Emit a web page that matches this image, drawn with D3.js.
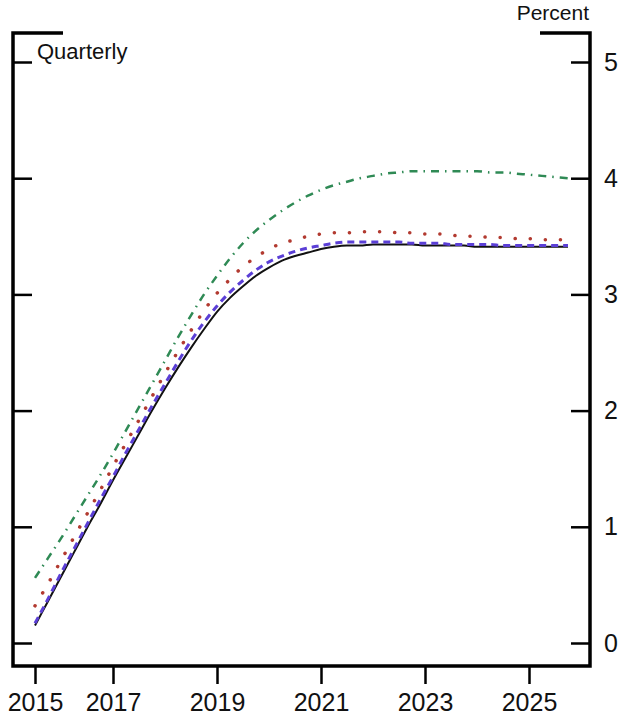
<!DOCTYPE html>
<html>
<head>
<meta charset="utf-8">
<script src="https://cdn.jsdelivr.net/npm/d3@7"></script>
<style>
  body { margin: 0; background: #fff; }
  text { font-family: "Liberation Sans", Arial, sans-serif; fill: #111; }
</style>
</head>
<body>
<script>
// quarterly dates, 2015Q3 through 2025Q4
const dates = d3.range(2015.5, 2025.76, 0.25)

// series (percent)
const solidBlack = [0.15, 0.36, 0.57, 0.78, 0.99, 1.19, 1.40, 1.60, 1.80, 2.00,
    2.19, 2.37, 2.54, 2.70, 2.85, 2.97, 3.07, 3.16, 3.23, 3.29,
    3.33, 3.36, 3.39, 3.41, 3.42, 3.42, 3.43, 3.43, 3.43, 3.43,
    3.42, 3.42, 3.42, 3.42, 3.41, 3.41, 3.41, 3.41, 3.41, 3.41, 3.41, 3.41]
const dashedBlue = [0.17, 0.38, 0.60, 0.81, 1.02, 1.23, 1.43, 1.64, 1.84, 2.04,
    2.23, 2.42, 2.60, 2.76, 2.90, 3.02, 3.12, 3.21, 3.28, 3.33,
    3.37, 3.40, 3.42, 3.44, 3.45, 3.45, 3.45, 3.45, 3.45, 3.44,
    3.44, 3.44, 3.43, 3.43, 3.43, 3.43, 3.42, 3.42, 3.42, 3.42, 3.42, 3.42]
const dottedRed = [0.32, 0.51, 0.71, 0.91, 1.11, 1.31, 1.52, 1.72, 1.92, 2.12,
    2.32, 2.51, 2.69, 2.86, 3.01, 3.13, 3.24, 3.32, 3.39, 3.44,
    3.47, 3.50, 3.52, 3.53, 3.53, 3.54, 3.54, 3.54, 3.53, 3.53,
    3.52, 3.52, 3.51, 3.50, 3.50, 3.49, 3.49, 3.48, 3.48, 3.47, 3.47, 3.47]
const dashDotGreen = [0.56, 0.73, 0.90, 1.08, 1.26, 1.44, 1.63, 1.83, 2.03, 2.23,
    2.43, 2.63, 2.82, 3.00, 3.16, 3.31, 3.44, 3.55, 3.64, 3.72,
    3.79, 3.85, 3.90, 3.94, 3.97, 4.00, 4.02, 4.04, 4.05, 4.06,
    4.06, 4.06, 4.06, 4.06, 4.06, 4.05, 4.05, 4.04, 4.03, 4.02, 4.01, 4.00]

// x tick positions and their labels (first tick sits at the first quarter)
const xTickValues = [2015.5, 2017, 2019, 2021, 2023, 2025]
const xTickLabels = ['2015', '2017', '2019', '2021', '2023', '2025']
const yTickValues = [0, 1, 2, 3, 4, 5]

// measurements
const m = {
    width: 632,
    height: 717,
    left: 13,
    right: 590,
    top: 33,
    bottom: 666
}

const svg = d3.select('body').append('svg')
    .attr('width', m.width)
    .attr('height', m.height)

const xScale = d3.scaleLinear()
    .domain([2015, 2026])
    .range([9, 581])

const yScale = d3.scaleLinear()
    .domain([0, 5])
    .range([643, 62])

// frame: full sides and bottom, only corner pieces on top
const frame = svg.append('g')
    .attr('stroke', '#000')
    .attr('stroke-width', 3.5)
    .attr('fill', 'none')
frame.append('path')
    .attr('d', `M${m.left + 50},${m.top} H${m.left} V${m.bottom} H${m.right} V${m.top} H${m.right - 50}`)

// left axis, ticks only
const yAxisLeft = d3.axisLeft(yScale)
    .tickValues(yTickValues)
    .tickSize(-19)
    .tickFormat('')
svg.append('g')
    .attr('transform', `translate(${m.left},0)`)
    .call(yAxisLeft)
    .call(g => g.select('.domain').remove())
    .call(g => g.selectAll('line').attr('stroke-width', 2.5))

// right axis with labels
const yAxisRight = d3.axisRight(yScale)
    .tickValues(yTickValues)
    .tickFormat(d3.format('d'))
    .tickSizeInner(-19)
    .tickSizeOuter(0)
    .tickPadding(14)
svg.append('g')
    .attr('transform', `translate(${m.right},0)`)
    .call(yAxisRight)
    .call(g => g.select('.domain').remove())
    .call(g => g.selectAll('line').attr('stroke-width', 2.5))
    .call(g => g.selectAll('text')
        .attr('font-size', 25)
        .attr('font-family', '"Liberation Sans", Arial, sans-serif')
        .attr('fill', '#111'))

// bottom axis
const xAxis = d3.axisBottom(xScale)
    .tickValues(xTickValues)
    .tickFormat((d, i) => xTickLabels[i])
    .tickSizeInner(18)
    .tickSizeOuter(0)
    .tickPadding(9)
svg.append('g')
    .attr('transform', `translate(0,${m.bottom})`)
    .call(xAxis)
    .call(g => g.select('.domain').remove())
    .call(g => g.selectAll('line').attr('stroke-width', 2.5))
    .call(g => g.selectAll('text')
        .attr('font-size', 25)
        .attr('font-family', '"Liberation Sans", Arial, sans-serif')
        .attr('fill', '#111'))

// the lines
const line = d3.line()
    .x((d, i) => xScale(dates[i]))
    .y(d => yScale(d))
    .curve(d3.curveMonotoneX)

const series = [
    { values: solidBlack, color: '#111', width: 2, dash: null, cap: 'butt' },
    { values: dashedBlue, color: '#5b3fd6', width: 3, dash: '7,5', cap: 'butt' },
    { values: dottedRed, color: '#b23a30', width: 3.5, dash: '0.1,15', cap: 'round' },
    { values: dashDotGreen, color: '#2f8a55', width: 2.5, dash: '8,6,1.5,6', cap: 'butt' }
]

svg.selectAll('path.series')
    .data(series)
    .join('path')
    .attr('class', 'series')
    .attr('fill', 'none')
    .attr('stroke', d => d.color)
    .attr('stroke-width', d => d.width)
    .attr('stroke-dasharray', d => d.dash)
    .attr('stroke-linecap', d => d.cap)
    .attr('d', d => line(d.values))

// labels
svg.append('text')
    .attr('x', 37)
    .attr('y', 59)
    .attr('font-size', 22)
    .text('Quarterly')

svg.append('text')
    .attr('x', 589)
    .attr('y', 20)
    .attr('text-anchor', 'end')
    .attr('font-size', 21)
    .text('Percent')
</script>
</body>
</html>
